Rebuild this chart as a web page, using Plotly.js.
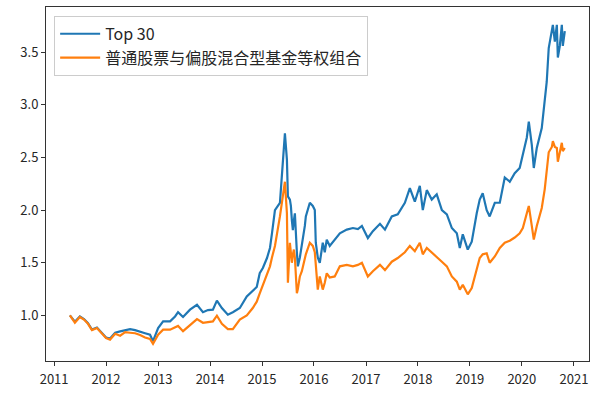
<!DOCTYPE html>
<html>
<head>
<meta charset="utf-8">
<script src="https://cdn.plot.ly/plotly-3.0.1.min.js"></script>
<style>html,body{margin:0;padding:0;background:#fff;}#chart{width:600px;height:393px;}</style>
</head>
<body>
<div id="chart"></div>
<script>
const dates = [
"2011-04-22","2011-05-27","2011-07-01","2011-07-30","2011-08-27","2011-09-24","2011-10-29","2011-11-19",
"2012-01-01","2012-01-29","2012-03-05","2012-04-09","2012-05-14","2012-06-18","2012-07-23","2012-08-27","2012-10-01","2012-11-05","2012-11-26",
"2013-01-01","2013-02-05","2013-03-26","2013-04-30","2013-05-21","2013-06-25","2013-08-13","2013-10-01","2013-11-12","2013-12-17",
"2014-01-21","2014-02-18","2014-03-25","2014-05-06","2014-06-10","2014-07-29","2014-09-16","2014-10-28","2014-11-25","2014-12-16",
"2015-01-07","2015-02-05","2015-02-26","2015-03-12","2015-04-02","2015-05-07","2015-05-28","2015-06-11","2015-06-25","2015-07-02",
"2015-07-16","2015-07-23","2015-07-30","2015-08-06","2015-08-13","2015-08-20","2015-09-03","2015-09-10","2015-09-24","2015-10-08",
"2015-10-29","2015-11-05","2015-12-03","2015-12-24",
"2016-01-07","2016-01-14","2016-01-28","2016-02-11","2016-02-25","2016-03-03","2016-03-17","2016-03-31","2016-04-21","2016-05-26",
"2016-07-01","2016-08-19","2016-10-01","2016-11-05","2016-12-03",
"2017-01-14","2017-02-18","2017-04-09","2017-05-14","2017-07-01","2017-08-12","2017-10-01","2017-11-05","2017-12-10",
"2018-01-14","2018-02-04","2018-03-04","2018-04-08","2018-05-13","2018-06-18","2018-07-23","2018-08-27","2018-10-01","2018-10-22",
"2018-11-12","2018-12-17",
"2019-01-14","2019-02-18","2019-03-11","2019-04-01","2019-04-29","2019-05-20","2019-06-25","2019-07-30",
"2019-09-03","2019-10-08","2019-11-12","2019-12-17",
"2020-01-08","2020-02-05","2020-02-19","2020-03-11","2020-03-25","2020-04-15","2020-05-20","2020-06-10","2020-06-24","2020-07-08",
"2020-07-30","2020-08-06","2020-08-20","2020-09-03","2020-09-10","2020-09-24","2020-10-08","2020-10-15","2020-10-29"
];
const top30 = [
1.00,0.94,0.99,0.965,0.925,0.865,0.885,0.855,
0.79,0.78,0.835,0.848,0.86,0.87,0.86,0.848,0.83,0.816,0.755,
0.88,0.943,0.943,0.99,1.03,0.985,1.054,1.10,1.03,1.05,
1.054,1.14,1.07,1.007,1.03,1.07,1.18,1.23,1.27,1.40,
1.45,1.545,1.64,1.78,2.00,2.07,2.51,2.73,2.48,2.13,
2.10,2.04,1.90,1.81,1.90,1.97,1.60,1.466,1.55,1.66,
1.85,1.94,2.07,2.04,
2.00,1.69,1.55,1.50,1.62,1.69,1.60,1.72,1.66,1.72,
1.78,1.815,1.83,1.82,1.85,
1.735,1.80,1.87,1.815,1.94,1.96,2.07,2.21,2.08,
2.23,2.00,2.19,2.10,2.15,2.00,1.96,1.83,1.78,1.64,
1.77,1.625,
1.70,1.97,2.10,2.16,2.00,1.94,2.07,2.07,
2.31,2.27,2.35,2.40,
2.53,2.69,2.84,2.62,2.40,2.59,2.78,3.03,3.22,3.54,
3.70,3.76,3.60,3.76,3.45,3.56,3.76,3.56,3.70
];
const equalWeight = [
1.00,0.93,0.985,0.96,0.92,0.86,0.88,0.85,
0.785,0.77,0.826,0.807,0.84,0.835,0.83,0.814,0.79,0.776,0.73,
0.816,0.864,0.864,0.89,0.90,0.85,0.91,0.965,0.93,0.935,
0.943,0.997,0.92,0.87,0.87,0.96,1.00,1.07,1.13,1.21,
1.29,1.40,1.466,1.55,1.66,1.94,2.15,2.27,1.97,1.31,
1.69,1.60,1.50,1.58,1.625,1.55,1.21,1.25,1.37,1.42,
1.53,1.58,1.69,1.66,
1.60,1.466,1.245,1.37,1.30,1.245,1.31,1.40,1.36,1.37,
1.466,1.48,1.466,1.48,1.50,
1.37,1.42,1.48,1.43,1.51,1.545,1.60,1.66,1.61,
1.69,1.58,1.64,1.60,1.56,1.51,1.466,1.37,1.32,1.245,
1.29,1.20,
1.26,1.43,1.545,1.58,1.59,1.50,1.56,1.64,
1.69,1.71,1.74,1.78,
1.83,1.97,2.04,1.85,1.72,1.85,2.02,2.20,2.40,2.55,
2.60,2.655,2.60,2.59,2.46,2.55,2.64,2.56,2.59
];
const names = ["Top 30","普通股票与偏股混合型基金等权组合"];

const font = "Noto Sans CJK SC, DejaVu Sans, sans-serif";
const traces = [
  {x: dates, y: top30, name: names[0], type: "scatter", mode: "lines", line: {color: "#1f77b4", width: 2.2}},
  {x: dates, y: equalWeight, name: names[1], type: "scatter", mode: "lines", line: {color: "#ff7f0e", width: 2.2}}
];
const axisCommon = {
  showgrid: false, zeroline: false, showline: true, mirror: true,
  linecolor: "#333", linewidth: 1, ticks: "outside", ticklen: 4, tickwidth: 1, tickcolor: "#333",
  tickfont: {family: font, size: 13, color: "#262626"}
};
const layout = {
  width: 600, height: 393,
  margin: {l: 46, r: 11, t: 7, b: 32},
  paper_bgcolor: "#fff", plot_bgcolor: "#fff",
  font: {family: font, color: "#262626"},
  showlegend: true,
  legend: {x: 0.015, y: 0.975, xanchor: "left", yanchor: "top", bgcolor: "rgba(255,255,255,0.9)",
    bordercolor: "#cccccc", borderwidth: 1, font: {family: font, size: 16, color: "#262626"},
    tracegroupgap: 0, itemwidth: 40},
  xaxis: Object.assign({}, axisCommon, {type: "date", range: ["2010-11-05", "2021-04-17"], dtick: "M12", tick0: "2011-01-01", tickformat: "%Y", ticklabelstandoff: 2}),
  yaxis: Object.assign({}, axisCommon, {range: [0.5665, 3.93], dtick: 0.5, tick0: 0, tickformat: ".1f"})
};
Plotly.newPlot("chart", traces, layout, {displayModeBar: false, staticPlot: true});
</script>
</body>
</html>
